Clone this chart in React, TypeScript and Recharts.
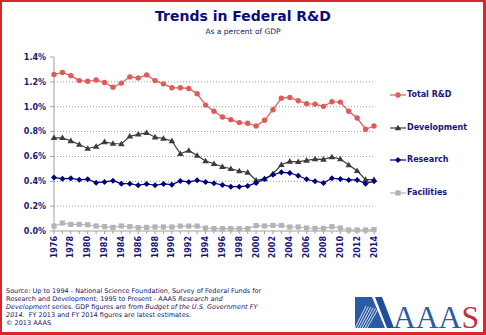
import { LineChart, Line, XAxis, YAxis, ReferenceLine } from "recharts";

const years = [
  1976, 1977, 1978, 1979, 1980, 1981, 1982, 1983, 1984, 1985, 1986, 1987, 1988,
  1989, 1990, 1991, 1992, 1993, 1994, 1995, 1996, 1997, 1998, 1999, 2000, 2001,
  2002, 2003, 2004, 2005, 2006, 2007, 2008, 2009, 2010, 2011, 2012, 2013, 2014,
];

const totalRD = [
  1.26, 1.275, 1.25, 1.21, 1.205, 1.215, 1.195, 1.157, 1.19, 1.24, 1.232, 1.256,
  1.21, 1.184, 1.152, 1.152, 1.147, 1.104, 1.013, 0.963, 0.917, 0.896, 0.872,
  0.867, 0.845, 0.891, 0.976, 1.069, 1.075, 1.048, 1.024, 1.021, 1.003, 1.04,
  1.037, 0.963, 0.909, 0.819, 0.845,
];

const development = [
  0.75, 0.75, 0.725, 0.696, 0.664, 0.68, 0.717, 0.704, 0.7, 0.762, 0.778, 0.79,
  0.755, 0.744, 0.725, 0.621, 0.648, 0.608, 0.563, 0.541, 0.517, 0.501, 0.483,
  0.472, 0.408, 0.419, 0.461, 0.533, 0.56, 0.557, 0.568, 0.579, 0.576, 0.595,
  0.579, 0.531, 0.485, 0.413, 0.413,
];

const research = [
  0.43, 0.421, 0.424, 0.413, 0.416, 0.389, 0.395, 0.405, 0.381, 0.381, 0.368,
  0.379, 0.368, 0.379, 0.373, 0.403, 0.395, 0.408, 0.395, 0.384, 0.371, 0.357,
  0.357, 0.363, 0.387, 0.419, 0.453, 0.472, 0.467, 0.445, 0.416, 0.4, 0.387,
  0.424, 0.419, 0.411, 0.411, 0.381, 0.4,
];

const facilities = [
  0.04, 0.064, 0.053, 0.053, 0.05, 0.04, 0.035, 0.029, 0.04, 0.035, 0.027, 0.029,
  0.032, 0.032, 0.032, 0.04, 0.04, 0.04, 0.024, 0.019, 0.019, 0.019, 0.019, 0.019,
  0.043, 0.04, 0.045, 0.045, 0.032, 0.032, 0.024, 0.021, 0.021, 0.035, 0.024,
  0.008, 0.008, 0.008, 0.011,
];

const yTicks = [0, 0.2, 0.4, 0.6, 0.8, 1.0, 1.2, 1.4];
const gridTicks = [0.2, 0.4, 0.6, 0.8, 1.0, 1.2];

const data = years.map((year, i) => ({
  year,
  total: totalRD[i],
  development: development[i],
  research: research[i],
  facilities: facilities[i],
}));

const NAVY = "#16167a";
const FONT = "'DejaVu Sans', Verdana, sans-serif";

const COLORS = {
  total: "#e05a5a",
  development: "#3c3c3c",
  research: "#000080",
  facilities: "#b4b4b4",
};

type Shape = "circle" | "triangle" | "diamond" | "square";

function Marker({ cx, cy, shape, color }: { cx: number; cy: number; shape: Shape; color: string }) {
  if (shape === "circle") return <circle cx={cx} cy={cy} r={2.7} fill={color} />;
  if (shape === "triangle")
    return (
      <polygon
        points={`${cx},${cy - 3.3} ${cx + 3.3},${cy + 2.3} ${cx - 3.3},${cy + 2.3}`}
        fill={color}
      />
    );
  if (shape === "diamond")
    return (
      <polygon
        points={`${cx},${cy - 3} ${cx + 3},${cy} ${cx},${cy + 3} ${cx - 3},${cy}`}
        fill={color}
      />
    );
  return <rect x={cx - 2.6} y={cy - 2.6} width={5.2} height={5.2} fill={color} />;
}

const makeDot = (shape: Shape, color: string) => (props: any) => {
  const { cx, cy, index } = props;
  if (cx == null || cy == null) return <g key={`e-${index}`} />;
  return (
    <g key={`${shape}-${index}`}>
      <Marker cx={cx} cy={cy} shape={shape} color={color} />
    </g>
  );
};

const series: { key: keyof typeof COLORS; name: string; shape: Shape }[] = [
  { key: "total", name: "Total R&D", shape: "circle" },
  { key: "development", name: "Development", shape: "triangle" },
  { key: "research", name: "Research", shape: "diamond" },
  { key: "facilities", name: "Facilities", shape: "square" },
];

function YearTick(props: any) {
  const { x, y, payload } = props;
  if (payload.value % 2 !== 0) return <g />;
  return (
    <text
      transform={`translate(${x},${y}) rotate(-90)`}
      textAnchor="end"
      dominantBaseline="central"
      fontFamily={FONT}
      fontWeight="bold"
      fontSize={8}
      fill={NAVY}
    >
      {payload.value}
    </text>
  );
}

function LegendBox() {
  return (
    <div
      style={{
        position: "absolute",
        left: 390,
        top: 90,
        fontFamily: FONT,
        fontWeight: "bold",
        fontSize: 8,
        color: NAVY,
      }}
    >
      {series.map((s) => (
        <div key={s.key} style={{ height: 32.5, display: "flex", alignItems: "flex-start" }}>
          <svg width={16} height={10} style={{ marginRight: 1 }}>
            <line x1={0} y1={5} x2={16} y2={5} stroke={COLORS[s.key]} strokeWidth={1.2} />
            <Marker cx={8} cy={5} shape={s.shape} color={COLORS[s.key]} />
          </svg>
          <span style={{ lineHeight: "10px" }}>{s.name}</span>
        </div>
      ))}
    </div>
  );
}

function Logo() {
  return (
    <svg
      width={130}
      height={48}
      style={{ position: "absolute", left: 352, top: 287 }}
      viewBox="0 0 130 48"
    >
      <polygon points="3,10 20,10 33,41 3,41" fill="#2b5ba6" />
      {[0, 1, 2, 3, 4, 5].map((i) => (
        <line
          key={i}
          x1={3 + i * 2.4}
          y1={41}
          x2={14 + i * 2.4}
          y2={19 + i * 0.6}
          stroke="#ffffff"
          strokeWidth={0.8}
        />
      ))}
      <polygon points="23,10 30,10 42,41 35,41" fill="#1d4f9c" />
      <text
        x={41}
        y={41}
        fontFamily="'Liberation Serif', 'Times New Roman', serif"
        fontSize={32}
        textLength={86}
        lengthAdjust="spacingAndGlyphs"
      >
        <tspan fill="#2b5ba6">AAA</tspan>
        <tspan fill="#c62f36">S</tspan>
      </text>
    </svg>
  );
}

export default function App() {
  return (
    <div
      style={{
        position: "absolute",
        left: 0,
        top: 0,
        width: 486,
        height: 335,
        background: "#ffffff",
        overflow: "hidden",
      }}
    >
      <div
        style={{
          position: "absolute",
          top: 7,
          width: 486,
          textAlign: "center",
          fontFamily: FONT,
          fontWeight: "bold",
          fontSize: 14,
          color: "#0c0c78",
          lineHeight: "18px",
        }}
      >
        Trends in Federal R&amp;D
      </div>
      <div
        style={{
          position: "absolute",
          top: 27,
          width: 486,
          textAlign: "center",
          fontFamily: FONT,
          fontSize: 7.5,
          color: "#222266",
          lineHeight: "10px",
        }}
      >
        As a percent of GDP
      </div>

      <div style={{ position: "absolute", left: 0, top: 0 }}>
        <LineChart
          width={486}
          height={262}
          data={data}
          margin={{ top: 57, right: 112, left: 10, bottom: 0 }}
        >
          {gridTicks.map((t) => (
            <ReferenceLine key={t} y={t} stroke="#9a9a9a" strokeDasharray="1 2" ifOverflow="visible" />
          ))}
          <XAxis
            dataKey="year"
            interval={0}
            height={31}
            tickSize={3}
            tickMargin={2}
            stroke="#a0a0a0"
            tick={<YearTick />}
            padding={{ left: 0, right: 0 }}
          />
          <YAxis
            domain={[0, 1.4]}
            ticks={yTicks}
            width={44}
            tickSize={4}
            tickMargin={4}
            stroke="#a0a0a0"
            tickFormatter={(v: number) => `${v.toFixed(1)}%`}
            tick={{ fontFamily: FONT, fontWeight: "bold", fontSize: 8, fill: NAVY }}
          />
          {series.map((s) => (
            <Line
              key={s.key}
              dataKey={s.key}
              name={s.name}
              type="linear"
              stroke={COLORS[s.key]}
              strokeWidth={1.2}
              dot={makeDot(s.shape, COLORS[s.key])}
              activeDot={false}
              isAnimationActive={false}
            />
          ))}
        </LineChart>
      </div>

      <LegendBox />

      <div
        style={{
          position: "absolute",
          left: 6,
          top: 287,
          fontFamily: FONT,
          fontSize: 6.5,
          lineHeight: "8px",
          color: "#161666",
          whiteSpace: "nowrap",
        }}
      >
        Source: Up to 1994 - National Science Foundation, Survey of Federal Funds for
        <br />
        Research and Development; 1995 to Present - AAAS <i>Research and</i>
        <br />
        <i>Development</i> series. GDP figures are from <i>Budget of the U.S. Government FY</i>
        <br />
        <i>2014.</i>&nbsp; FY 2013 and FY 2014 figures are latest estimates.
        <br />© 2013 AAAS
      </div>

      <Logo />

      <div
        style={{
          position: "absolute",
          left: 0,
          top: 0,
          width: 486,
          height: 335,
          boxSizing: "border-box",
          borderStyle: "solid",
          borderColor: "#d8262b",
          borderWidth: "2px 3px 3px 2px",
          pointerEvents: "none",
        }}
      />
    </div>
  );
}
